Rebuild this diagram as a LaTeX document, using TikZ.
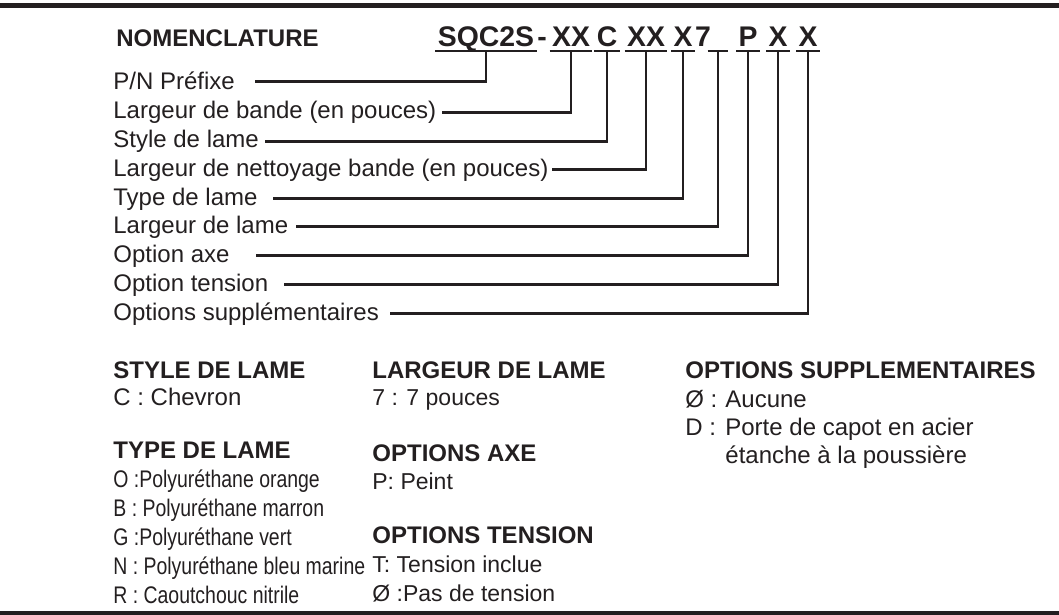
\documentclass[tikz,border=0pt]{standalone}
\usepackage{fontspec}
\setmainfont{Liberation Sans}
\newfontfamily\narrowsans[FakeStretch=0.81]{Liberation Sans}
\usetikzlibrary{positioning}
\definecolor{ink}{RGB}{35,31,32}

\begin{document}
\begin{tikzpicture}[x=0.5pt, y=-0.5pt, color=ink,
    lbl/.style={anchor=base west, inner sep=0pt, font=\fontsize{12}{14}\selectfont},
    narrow/.style={lbl, font=\fontsize{12}{14}\narrowsans},
    mid/.style={lbl, font=\fontsize{11.5}{13}\selectfont},
    head/.style={lbl, font=\fontsize{12}{14}\selectfont\bfseries},
    code/.style={anchor=base, inner xsep=1pt, inner ysep=0pt, font=\fontsize{14.2}{16}\selectfont\bfseries},
    leader/.style={line width=1.3pt},
  ]
  \useasboundingbox (0,0) rectangle (1059,615);
  % top and bottom bars
  \fill (0,3) rectangle (1059,8);
  \fill (0,611) rectangle (1059,615);

  \node[head] (nom) at (116,47) {NOMENCLATURE};

  % part number, one node per group
  \foreach \name/\x/\txt in {sqc/486/SQC2S, xxa/571/XX, c/607/C, xxb/646/XX, x/683/X,
      und/718/\phantom{7}, p/748/P, xa/778/X, xb/808/X}{
    \node[code] (\name) at (\x,47) {\txt};
    \draw[leader] ([yshift=-2pt]\name.base west) -- ([yshift=-2pt]\name.base east);
  }
  \node[code, inner xsep=0pt] (dash) at (542,47) {-};
  \node[code, inner xsep=0pt] (sev) at (703,47) {7};

  % labels and leaders
  \foreach \txt/\row/\gap/\tgt [count=\i] in {
      {P/N Préfixe}/84/20/sqc,
      Largeur de bande (en pouces)/113/5/xxa,
      Style de lame/142/6/c,
      Largeur de nettoyage bande (en pouces)/170/3/xxb,
      Type de lame/199/15/x,
      Largeur de lame/227/7/und,
      Option axe/256/26/p,
      Option tension/285/15/xa,
      Options supplémentaires/314/11/xb}{
    \node[lbl] (l\i) at (113,\row+6) {\txt};
    \draw[leader] ([yshift=-2pt]\tgt.base) |- ([xshift=\gap*0.5pt]l\i.east);
  }

  % first column
  \node[head] (styh) at (113,378) {STYLE DE LAME};
  \node[lbl] (sty1) at (113,405) {C : Chevron};
  \node[head] (typh) at (113,458) {TYPE DE LAME};
  \foreach \txt [count=\k] in {O :Polyuréthane orange, B : Polyuréthane marron,
      G :Polyuréthane vert, N : Polyuréthane bleu marine, R : Caoutchouc nitrile}
    \node[narrow] (typ\k) at (113,458+29*\k) {\txt};

  % second column
  \node[head] (larh) at (372,378) {LARGEUR DE LAME};
  \node[mid] (lar1) at (372,405) {7 : 7 pouces};
  \node[head] (axeh) at (372,461) {OPTIONS AXE};
  \node[mid] (axe1) at (372,489) {P: Peint};
  \node[head] (tenh) at (372,543) {OPTIONS TENSION};
  \node[mid] (ten1) at (372,572) {T: Tension inclue};
  \node[mid] (ten2) at (372,601) {Ø :Pas de tension};

  % third column
  \node[head] (suph) at (685,378) {OPTIONS SUPPLEMENTAIRES};
  \node[lbl] (sup1) at (685,407) {\makebox[20pt][l]{Ø :}Aucune};
  \node[lbl] (sup2) at (685,435) {\makebox[20pt][l]{D :}Porte de capot en acier};
  \node[lbl] (sup3) at (725,463) {étanche à la poussière};
\end{tikzpicture}
\end{document}
